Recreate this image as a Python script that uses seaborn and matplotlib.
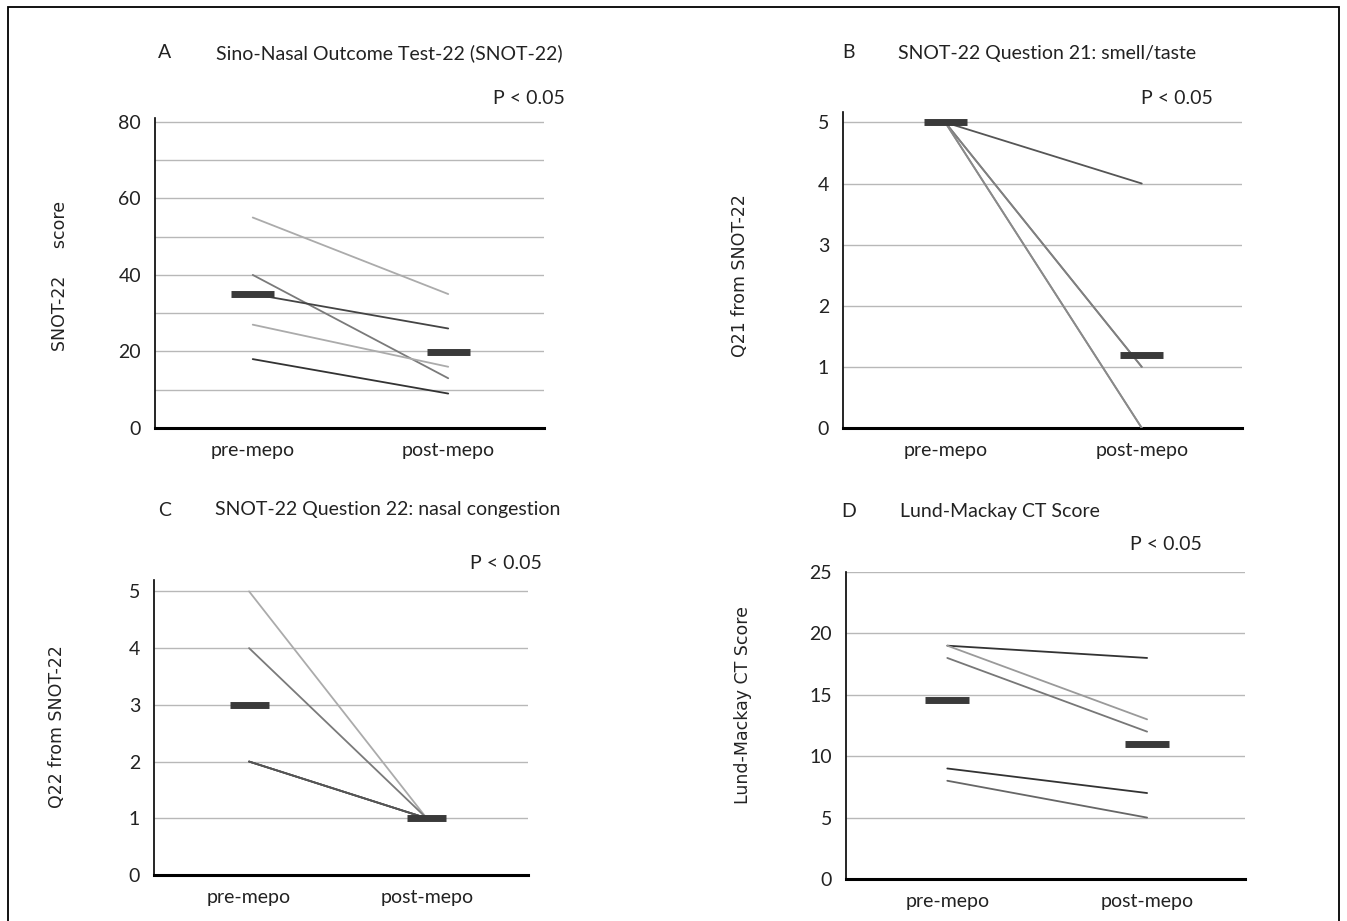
import numpy as np
import pandas as pd
import matplotlib
matplotlib.use("Agg")
import matplotlib.pyplot as plt
import seaborn as sns
from matplotlib.patches import Rectangle

# ---------------- data ----------------
times = ["pre-mepo", "post-mepo"]

a_pre = [55, 40, 35, 27, 18]
a_post = [35, 13, 26, 16, 9]

b_pre = [5, 5, 5, 5, 5]
b_post = [4, 1, 1, 0, 0]

c_pre = [5, 4, 2, 2, 2]
c_post = [1, 1, 1, 1, 1]

d_pre = [19, 19, 18, 9, 8]
d_post = [18, 13, 12, 7, 5]

a_yticks = [0, 20, 40, 60, 80]
a_grid = [10, 20, 30, 40, 50, 60, 70, 80]
b_yticks = [0, 1, 2, 3, 4, 5]
b_grid = [1, 2, 3, 4, 5]
c_yticks = [0, 1, 2, 3, 4, 5]
c_grid = [1, 2, 3, 4, 5]
d_yticks = [0, 5, 10, 15, 20, 25]
d_grid = [5, 10, 15, 20, 25]

titles = ["Sino-Nasal Outcome Test-22 (SNOT-22)",
          "SNOT-22 Question 21: smell/taste",
          "SNOT-22 Question 22: nasal congestion",
          "Lund-Mackay CT Score"]
letters = ["A", "B", "C", "D"]
ylabels = ["SNOT-22     score", "Q21 from SNOT-22", "Q22 from SNOT-22", "Lund-Mackay CT Score"]
pval = "P < 0.05"

# ---------------- style ----------------
a_colors = ["#ababab", "#7a7a7a", "#444444", "#ababab", "#333333"]
b_colors = ["#555555", "#808080", "#808080", "#8a8a8a", "#8a8a8a"]
c_colors = ["#ababab", "#7a7a7a", "#555555", "#555555", "#555555"]
d_colors = ["#333333", "#9a9a9a", "#777777", "#333333", "#666666"]

sns.set_theme(style="white")
plt.rcParams["font.family"] = ["Lato", "DejaVu Sans"]

W, H = 1347, 921
fig = plt.figure(figsize=(W / 100, H / 100), dpi=100)


def px(x0, y0, x1, y1):
    return [x0 / W, 1 - y1 / H, (x1 - x0) / W, (y1 - y0) / H]


panels = [
    dict(pre=a_pre, post=a_post, colors=a_colors, ticks=a_yticks, grid=a_grid,
         ylim=(0, 81), xlim=(-0.50, 1.49), box=px(155, 118, 544, 428),
         letter_xy=(165, 53), title_xy=(216, 53), p_xy=(493, 99), ylab_xy=(60, 276)),
    dict(pre=b_pre, post=b_post, colors=b_colors, ticks=b_yticks, grid=b_grid,
         ylim=(0, 5.17), xlim=(-0.52, 1.51), box=px(843, 112, 1242, 428),
         letter_xy=(848, 53), title_xy=(898, 53), p_xy=(1141, 99), ylab_xy=(740, 276)),
    dict(pre=c_pre, post=c_post, colors=c_colors, ticks=c_yticks, grid=c_grid,
         ylim=(0, 5.2), xlim=(-0.535, 1.57), box=px(154, 580, 528, 875),
         letter_xy=(165, 510), title_xy=(215, 510), p_xy=(470, 563), ylab_xy=(57, 727)),
    dict(pre=d_pre, post=d_post, colors=d_colors, ticks=d_yticks, grid=d_grid,
         ylim=(0, 25), xlim=(-0.507, 1.49), box=px(846, 572, 1245, 879),
         letter_xy=(849, 511), title_xy=(900, 511), p_xy=(1130, 544), ylab_xy=(743, 705)),
]

for k, p in enumerate(panels):
    ax = fig.add_axes(p["box"])
    n = len(p["pre"])
    df = pd.DataFrame({
        "subject": np.repeat(np.arange(n), 2),
        "time": np.tile([0, 1], n),
        "score": np.ravel(np.column_stack([p["pre"], p["post"]])),
    })
    # grid lines
    ax.hlines(p["grid"], 0, 1, transform=ax.get_yaxis_transform(),
              colors="#b8b8b8", lw=1.0, zorder=0)
    sns.lineplot(data=df, x="time", y="score", hue="subject", units="subject",
                 estimator=None, palette=p["colors"], legend=False, lw=1.3,
                 ax=ax, zorder=3)
    means = df.groupby("time")["score"].mean()
    ax.hlines(means.values, means.index - 0.11, means.index + 0.11,
              colors="#3a3a3a", lw=5, zorder=5)

    ax.set_xlim(*p["xlim"])
    ax.set_ylim(*p["ylim"])
    ax.set_xticks([0, 1])
    ax.set_xticklabels(times, fontsize=14, color="#222222")
    ax.set_yticks(p["ticks"])
    ax.set_yticklabels([str(t) for t in p["ticks"]], fontsize=14, color="#222222")
    ax.tick_params(axis="both", length=0)
    ax.tick_params(axis="y", pad=10)
    ax.tick_params(axis="x", pad=10)
    ax.set_xlabel("")
    ax.set_ylabel("")
    for s in ["top", "right"]:
        ax.spines[s].set_visible(False)
    ax.spines["left"].set_color("black")
    ax.spines["left"].set_linewidth(1.2)
    ax.spines["bottom"].set_color("black")
    ax.spines["bottom"].set_linewidth(2.2)
    ax.set_facecolor("white")

    fig.text(p["letter_xy"][0] / W, 1 - p["letter_xy"][1] / H, letters[k],
             fontsize=14, va="center", ha="center", color="#222222")
    fig.text(p["title_xy"][0] / W, 1 - p["title_xy"][1] / H, titles[k],
             fontsize=14, va="center", ha="left", color="#222222")
    fig.text(p["p_xy"][0] / W, 1 - p["p_xy"][1] / H, pval,
             fontsize=14, va="center", ha="left", color="#222222")
    fig.text(p["ylab_xy"][0] / W, 1 - p["ylab_xy"][1] / H, ylabels[k],
             fontsize=12.5, va="center", ha="center", rotation=90,
             family=["DejaVu Sans"], color="#222222")

fig.patches.append(Rectangle((8 / W, -0.02), (1339 - 8) / W, 1.02 - 7.5 / H,
                             transform=fig.transFigure, fill=False,
                             ec="black", lw=1.3))

fig.savefig("out.png", dpi=100, facecolor="white")
